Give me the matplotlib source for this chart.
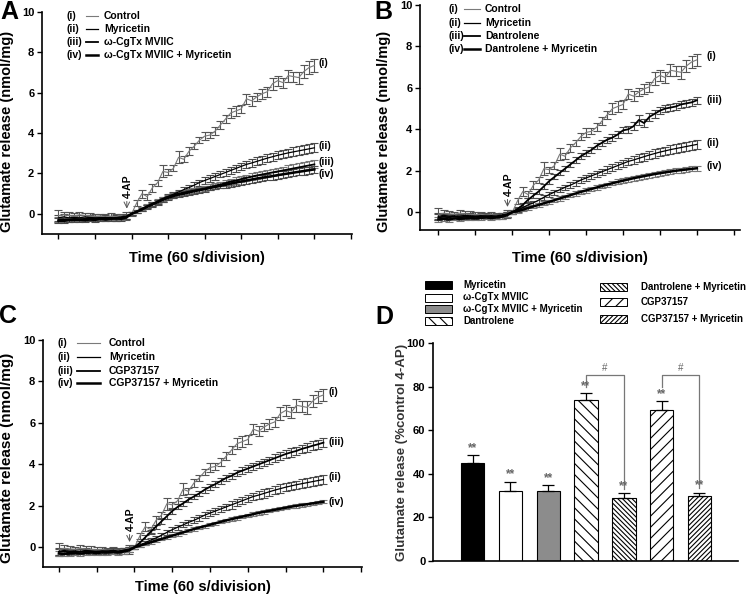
import matplotlib
matplotlib.use("Agg")
import matplotlib.pyplot as plt
from matplotlib.patches import Rectangle
from matplotlib.lines import Line2D
import numpy as np

plt.rcParams['font.family'] = ['Liberation Sans', 'DejaVu Sans']
plt.rcParams['font.weight'] = 'bold'
plt.rcParams['hatch.linewidth'] = 0.8

# ---- time course data (nmol/mg), one point every ~8.6 s, 4-AP at 2 min ----
time_min = np.linspace(0, 7, 50)

control = [-0.10, -0.05, -0.08, -0.10, -0.05, -0.08, -0.10, -0.12, -0.10, -0.15, -0.12, -0.15, -0.18, -0.10, 0.00,
           0.55, 1.00, 0.85, 1.30, 1.55, 2.10, 2.05, 2.25, 2.80, 2.70, 3.10, 3.35, 3.65, 3.85, 3.90,
           4.10, 4.40, 4.70, 5.00, 5.10, 5.20, 5.70, 5.60, 5.80, 5.95, 6.05, 6.45, 6.60, 6.50, 6.85,
           6.80, 6.75, 7.05, 7.25, 7.35]
control_err = [0.30, 0.15, 0.15, 0.12, 0.15, 0.12, 0.15, 0.12, 0.10, 0.12, 0.15, 0.12, 0.15, 0.20, 0.10,
               0.15, 0.20, 0.15, 0.20, 0.15, 0.30, 0.15, 0.15, 0.30, 0.15, 0.20, 0.15, 0.15, 0.20, 0.15,
               0.20, 0.20, 0.20, 0.25, 0.25, 0.20, 0.25, 0.25, 0.20, 0.25, 0.25, 0.30, 0.25, 0.25, 0.30,
               0.25, 0.30, 0.30, 0.30, 0.30]

myricetin = [-0.20, -0.15, -0.20, -0.18, -0.20, -0.15, -0.18, -0.20, -0.20, -0.18, -0.22, -0.20, -0.15, -0.12, 0.00,
             0.10, 0.22, 0.35, 0.45, 0.58, 0.72, 0.85, 0.97, 1.08, 1.20, 1.30, 1.42, 1.55, 1.65, 1.75,
             1.85, 1.95, 2.05, 2.15, 2.25, 2.35, 2.45, 2.52, 2.60, 2.68, 2.76, 2.83, 2.90, 2.96, 3.02,
             3.07, 3.12, 3.17, 3.22, 3.27]
myricetin_err = [0.15, 0.12, 0.12, 0.10, 0.12, 0.10, 0.12, 0.10, 0.10, 0.12, 0.10, 0.12, 0.10, 0.12, 0.08,
                 0.08, 0.10, 0.10, 0.10, 0.12, 0.12, 0.12, 0.12, 0.12, 0.12, 0.15, 0.15, 0.15, 0.15, 0.15,
                 0.15, 0.15, 0.18, 0.18, 0.18, 0.18, 0.18, 0.18, 0.20, 0.20, 0.20, 0.20, 0.20, 0.20, 0.20,
                 0.22, 0.22, 0.22, 0.22, 0.22]

cgtx = [-0.30, -0.28, -0.30, -0.25, -0.28, -0.25, -0.22, -0.25, -0.20, -0.22, -0.20, -0.25, -0.20, -0.15, 0.00,
        0.12, 0.25, 0.38, 0.50, 0.62, 0.75, 0.85, 0.92, 1.00, 1.05, 1.10, 1.15, 1.20, 1.25, 1.32,
        1.38, 1.45, 1.52, 1.60, 1.65, 1.72, 1.78, 1.84, 1.90, 1.95, 2.00, 2.05, 2.10, 2.15, 2.20,
        2.25, 2.30, 2.35, 2.40, 2.45]
cgtx_err = [0.12, 0.12, 0.10, 0.12, 0.10, 0.10, 0.12, 0.10, 0.10, 0.12, 0.10, 0.10, 0.12, 0.10, 0.08,
            0.08, 0.08, 0.10, 0.10, 0.10, 0.10, 0.10, 0.12, 0.12, 0.12, 0.12, 0.12, 0.12, 0.12, 0.15,
            0.15, 0.15, 0.15, 0.15, 0.15, 0.15, 0.15, 0.18, 0.18, 0.18, 0.18, 0.18, 0.18, 0.18, 0.20,
            0.20, 0.20, 0.20, 0.20, 0.20]

cgtx_myr = [-0.35, -0.35, -0.32, -0.30, -0.30, -0.32, -0.28, -0.30, -0.25, -0.28, -0.25, -0.22, -0.25, -0.18, 0.00,
            0.10, 0.22, 0.35, 0.47, 0.58, 0.70, 0.80, 0.88, 0.95, 1.00, 1.06, 1.12, 1.17, 1.22, 1.28,
            1.33, 1.38, 1.44, 1.50, 1.55, 1.60, 1.65, 1.70, 1.75, 1.79, 1.83, 1.87, 1.92, 1.96, 2.00,
            2.04, 2.08, 2.12, 2.16, 2.20]
cgtx_myr_err = [0.12, 0.10, 0.10, 0.12, 0.10, 0.10, 0.10, 0.12, 0.10, 0.10, 0.10, 0.12, 0.10, 0.10, 0.08,
                0.08, 0.08, 0.08, 0.10, 0.10, 0.10, 0.10, 0.10, 0.10, 0.12, 0.12, 0.12, 0.12, 0.12, 0.12,
                0.12, 0.12, 0.15, 0.15, 0.15, 0.15, 0.15, 0.15, 0.15, 0.15, 0.15, 0.18, 0.18, 0.18, 0.18,
                0.18, 0.18, 0.18, 0.18, 0.18]

dantrolene = [-0.25, -0.22, -0.25, -0.20, -0.25, -0.22, -0.20, -0.22, -0.18, -0.20, -0.18, -0.20, -0.15, -0.10, 0.00,
              0.15, 0.35, 0.60, 0.80, 1.00, 1.25, 1.50, 1.70, 1.90, 2.10, 2.30, 2.50, 2.70, 2.85, 3.00,
              3.20, 3.35, 3.50, 3.60, 3.75, 3.95, 4.00, 4.15, 4.45, 4.30, 4.60, 4.75, 4.90, 5.00, 5.05,
              5.10, 5.20, 5.25, 5.30, 5.40]
dantrolene_err = [0.15, 0.12, 0.12, 0.10, 0.12, 0.10, 0.12, 0.10, 0.12, 0.10, 0.10, 0.12, 0.10, 0.12, 0.08,
                  0.10, 0.10, 0.10, 0.12, 0.12, 0.12, 0.12, 0.12, 0.12, 0.12, 0.12, 0.15, 0.15, 0.15, 0.15,
                  0.15, 0.15, 0.15, 0.15, 0.15, 0.15, 0.18, 0.18, 0.25, 0.18, 0.18, 0.18, 0.18, 0.18, 0.18,
                  0.18, 0.18, 0.18, 0.18, 0.18]

dantrolene_myr = [-0.35, -0.32, -0.35, -0.30, -0.32, -0.30, -0.28, -0.30, -0.28, -0.25, -0.28, -0.25, -0.22, -0.15, 0.00,
                  0.05, 0.12, 0.20, 0.28, 0.35, 0.43, 0.50, 0.58, 0.66, 0.74, 0.82, 0.90, 0.98, 1.05, 1.12,
                  1.19, 1.26, 1.33, 1.40, 1.46, 1.52, 1.58, 1.64, 1.69, 1.74, 1.79, 1.84, 1.88, 1.92, 1.96,
                  2.00, 2.03, 2.06, 2.09, 2.12]
dantrolene_myr_err = [0.12, 0.10, 0.10, 0.10, 0.12, 0.10, 0.10, 0.10, 0.12, 0.10, 0.10, 0.10, 0.10, 0.10, 0.08,
                      0.08, 0.08, 0.08, 0.08, 0.10, 0.10, 0.10, 0.10, 0.10, 0.10, 0.10, 0.10, 0.10, 0.10, 0.10,
                      0.10, 0.10, 0.10, 0.10, 0.12, 0.12, 0.12, 0.12, 0.12, 0.12, 0.12, 0.12, 0.12, 0.12, 0.12,
                      0.12, 0.12, 0.12, 0.12, 0.12]

cgp = [-0.22, -0.20, -0.25, -0.20, -0.22, -0.18, -0.20, -0.22, -0.18, -0.20, -0.15, -0.20, -0.15, -0.10, 0.00,
       0.22, 0.48, 0.75, 1.00, 1.25, 1.50, 1.75, 1.95, 2.12, 2.30, 2.45, 2.60, 2.78, 2.92, 3.05,
       3.20, 3.35, 3.45, 3.60, 3.70, 3.80, 3.90, 4.00, 4.10, 4.20, 4.30, 4.40, 4.50, 4.58, 4.65,
       4.75, 4.82, 4.90, 4.97, 5.05]
cgp_err = [0.15, 0.12, 0.12, 0.10, 0.12, 0.10, 0.12, 0.10, 0.12, 0.10, 0.10, 0.12, 0.10, 0.12, 0.08,
           0.10, 0.10, 0.10, 0.10, 0.12, 0.12, 0.12, 0.12, 0.12, 0.12, 0.12, 0.12, 0.15, 0.15, 0.15,
           0.15, 0.15, 0.15, 0.15, 0.15, 0.15, 0.18, 0.18, 0.18, 0.18, 0.18, 0.18, 0.20, 0.20, 0.20,
           0.20, 0.22, 0.22, 0.22, 0.22]

cgp_myr = [-0.30, -0.32, -0.30, -0.28, -0.30, -0.28, -0.25, -0.28, -0.25, -0.25, -0.22, -0.25, -0.20, -0.15, 0.00,
           0.08, 0.16, 0.24, 0.32, 0.40, 0.48, 0.56, 0.64, 0.72, 0.80, 0.88, 0.95, 1.02, 1.09, 1.16,
           1.23, 1.30, 1.36, 1.42, 1.48, 1.54, 1.60, 1.66, 1.71, 1.76, 1.81, 1.86, 1.91, 1.96, 2.00,
           2.04, 2.08, 2.12, 2.16, 2.20]
cgp_myr_err = [0.12, 0.12, 0.10, 0.10, 0.12, 0.10, 0.10, 0.10, 0.10, 0.10, 0.10, 0.10, 0.10, 0.10, 0.08,
               0.06, 0.06, 0.06, 0.06, 0.06, 0.06, 0.06, 0.08, 0.08, 0.08, 0.08, 0.08, 0.08, 0.08, 0.08,
               0.08, 0.08, 0.08, 0.08, 0.08, 0.08, 0.08, 0.08, 0.08, 0.08, 0.08, 0.08, 0.08, 0.08, 0.08,
               0.08, 0.08, 0.08, 0.08, 0.08]

# ---- bar chart data (% of control 4-AP) ----
bar_labels = ['Myricetin', 'ω-CgTx MVIIC', 'ω-CgTx MVIIC + Myricetin', 'Dantrolene',
              'Dantrolene + Myricetin', 'CGP37157', 'CGP37157 + Myricetin']
bar_values = [44.8, 32.2, 32.2, 74.0, 29.0, 69.3, 30.0]
bar_errors = [3.6, 4.2, 2.6, 3.0, 2.0, 3.9, 1.4]

W, H = 750, 609
fig = plt.figure(figsize=(7.5, 6.09), dpi=100)


def px_axes(left, top, right, bottom):
    return fig.add_axes([left / W, 1 - bottom / H, (right - left) / W, (bottom - top) / H])


def time_panel(ax, series, leg_names, end_labels, xlim, ylim, leg, ylab_size, ylab_y, xlab_y):
    # series: (values, errors, line colour, line width, err colour)
    for vals, errs, col, lw, ecol in series:
        ax.errorbar(time_min, vals, yerr=errs, color=col, lw=lw, ecolor=ecol,
                    elinewidth=0.8, capsize=2.6, capthick=0.8)
    ax.set_xlim(*xlim)
    ax.set_ylim(*ylim)
    ax.set_xticks(range(0, 9))
    ax.set_xticklabels([])
    ax.set_yticks([0, 2, 4, 6, 8, 10])
    ax.tick_params(axis='both', direction='out', length=3.5, width=1.0, labelsize=8, pad=2)
    for lab in ax.get_yticklabels():
        lab.set_fontweight('bold')
    ax.spines['top'].set_visible(False)
    ax.spines['right'].set_visible(False)
    ax.spines['left'].set_linewidth(1.2)
    ax.spines['bottom'].set_linewidth(1.2)
    ax.set_ylabel('Glutamate release (nmol/mg)', fontsize=ylab_size, fontweight='bold', va='center')
    ax.yaxis.set_label_coords(-0.112, ylab_y)
    ax.set_xlabel('Time (60 s/division)', fontsize=10.5, fontweight='bold', va='center')
    ax.xaxis.set_label_coords(0.5, xlab_y)

    # 4-AP marker
    ax.annotate('', xy=(1.87, 0.12), xytext=(1.87, 0.75),
                arrowprops=dict(arrowstyle='->', color='#555555', lw=0.7))
    ax.text(1.9, 1.35, '4-AP', rotation=90, ha='center', va='center', fontsize=7.5, fontweight='bold')

    # in-plot legend
    roman = ['(i)', '(ii)', '(iii)', '(iv)']
    widths = [s[3] for s in series]
    cols = [s[2] for s in series]
    rx, lx0, lx1, tx, rows = leg
    for i, name in enumerate(leg_names):
        y = rows[i]
        ax.text(rx, y, roman[i], transform=ax.transAxes, fontsize=7.5, va='center')
        ax.add_line(Line2D([lx0, lx1], [y, y], transform=ax.transAxes, color=cols[i], lw=widths[i]))
        ax.text(tx, y, name, transform=ax.transAxes, fontsize=7.5, va='center')

    for lab, (xv, yv) in end_labels.items():
        ax.text(xv, yv, lab, fontsize=7.5, va='center', ha='left')


GREY = '#7a7a7a'
ECOL = '#4a4a4a'

# panel A
axA = px_axes(42, 12, 352, 234)
time_panel(axA,
           [(control, control_err, GREY, 0.8, '#555555'),
            (myricetin, myricetin_err, 'black', 0.9, ECOL),
            (cgtx, cgtx_err, 'black', 1.3, '#777777'),
            (cgtx_myr, cgtx_myr_err, 'black', 1.8, ECOL)],
           ['Control', 'Myricetin', 'ω-CgTx MVIIC', 'ω-CgTx MVIIC + Myricetin'],
           {'(i)': (7.12, 7.47), '(ii)': (7.12, 3.34), '(iii)': (7.12, 2.55), '(iv)': (7.12, 1.98)},
           (-0.45, 8.03), (-1.0, 10),
           (0.08, 0.142, 0.18, 0.2, [0.982, 0.922, 0.863, 0.806]),
           10.5, 0.46, -0.108)

# panel B
axB = px_axes(420, 5, 740, 230)
time_panel(axB,
           [(control, control_err, GREY, 0.8, '#555555'),
            (myricetin, myricetin_err, 'black', 0.9, ECOL),
            (dantrolene, dantrolene_err, 'black', 1.3, ECOL),
            (dantrolene_myr, dantrolene_myr_err, 'black', 1.8, '#777777')],
           ['Control', 'Myricetin', 'Dantrolene', 'Dantrolene + Myricetin'],
           {'(i)': (7.27, 7.52), '(iii)': (7.27, 5.42), '(ii)': (7.27, 3.33), '(iv)': (7.27, 2.24)},
           (-0.5, 8.17), (-0.86, 10),
           (0.0875, 0.1375, 0.1875, 0.203, [0.981, 0.919, 0.864, 0.803]),
           10.5, 0.436, -0.124)

# panel C
axC = px_axes(43, 340, 362, 567)
time_panel(axC,
           [(control, control_err, GREY, 0.8, '#555555'),
            (myricetin, myricetin_err, 'black', 0.9, ECOL),
            (cgp, cgp_err, 'black', 1.3, ECOL),
            (cgp_myr, cgp_myr_err, 'black', 1.8, '#777777')],
           ['Control', 'Myricetin', 'CGP37157', 'CGP37157 + Myricetin'],
           {'(i)': (7.13, 7.5), '(iii)': (7.13, 5.09), '(ii)': (7.13, 3.4), '(iv)': (7.13, 2.19)},
           (-0.42, 8.02), (-0.95, 10),
           (0.047, 0.107, 0.179, 0.207, [0.985, 0.924, 0.865, 0.81]),
           11.0, 0.48, -0.088)

# panel D
axD = px_axes(433, 343, 738, 561)
x = np.arange(len(bar_values))
faces = ['black', 'white', '#8c8c8c', 'white', 'white', 'white', 'white']
hatches = [None, None, None, '\\\\\\', '\\\\\\\\\\\\\\', '///', '///////']
bars = axD.bar(x, bar_values, width=0.62, color=faces, edgecolor='black', linewidth=0.8)
for b, h in zip(bars, hatches):
    if h:
        b.set_hatch(h)
axD.errorbar(x, bar_values, yerr=[np.zeros(len(x)), bar_errors], fmt='none',
             ecolor='black', elinewidth=0.9, capsize=4, capthick=0.9)
for xi, v, e in zip(x, bar_values, bar_errors):
    axD.text(xi, v + e + 0.5, '**', ha='center', va='bottom', fontsize=8.5, color='#666666')

# significance brackets
for left_i, right_i in [(3, 4), (5, 6)]:
    top = 85.5
    axD.plot([x[left_i], x[left_i], x[right_i], x[right_i]],
             [80.0, top, top, bar_values[right_i] + bar_errors[right_i] + 2.0],
             color='#777777', lw=0.9)
    axD.text((x[left_i] + x[right_i]) / 2, top + 0.8, '#', ha='center', va='bottom',
             fontsize=7, color='#666666', fontweight='normal')

axD.set_xlim(-1.05, 7.02)
axD.set_ylim(0, 100)
axD.set_xticks([])
axD.set_yticks([0, 20, 40, 60, 80, 100])
axD.tick_params(axis='y', direction='out', length=3.5, width=1.0, labelsize=8, pad=2)
for lab in axD.get_yticklabels():
    lab.set_fontweight('bold')
axD.spines['top'].set_visible(False)
axD.spines['right'].set_visible(False)
axD.spines['left'].set_linewidth(1.2)
axD.spines['bottom'].set_linewidth(1.2)
axD.set_ylabel('Glutamate release (%control 4-AP)', fontsize=9.5, fontweight='bold',
               color='#333333', va='center')
axD.yaxis.set_label_coords(-0.1, 0.5)

# bar legend (figure coordinates, in pixels)
left_rows = [285.5, 297.5, 309.0, 320.5]
right_rows = [287.0, 302.0, 318.5]
leg_pos = [(425, y, 463) for y in left_rows] + [(600, y, 641) for y in right_rows]
for i, (px, py, tx) in enumerate(leg_pos):
    r = Rectangle((px / W, 1 - (py + 4) / H), 27 / W, 8 / H, transform=fig.transFigure,
                  facecolor=faces[i], edgecolor='black', linewidth=0.7, hatch=hatches[i])
    fig.patches.append(r)
    fig.text(tx / W, 1 - py / H, bar_labels[i], fontsize=7, va='center', ha='left')

# panel letters
for letter, (lx, ly) in {'A': (9, 12), 'B': (383, 12), 'C': (8, 316), 'D': (384, 317)}.items():
    fig.text(lx / W, 1 - ly / H, letter, fontsize=18, fontweight='bold', ha='center', va='center')

fig.savefig('out.png', dpi=100)
